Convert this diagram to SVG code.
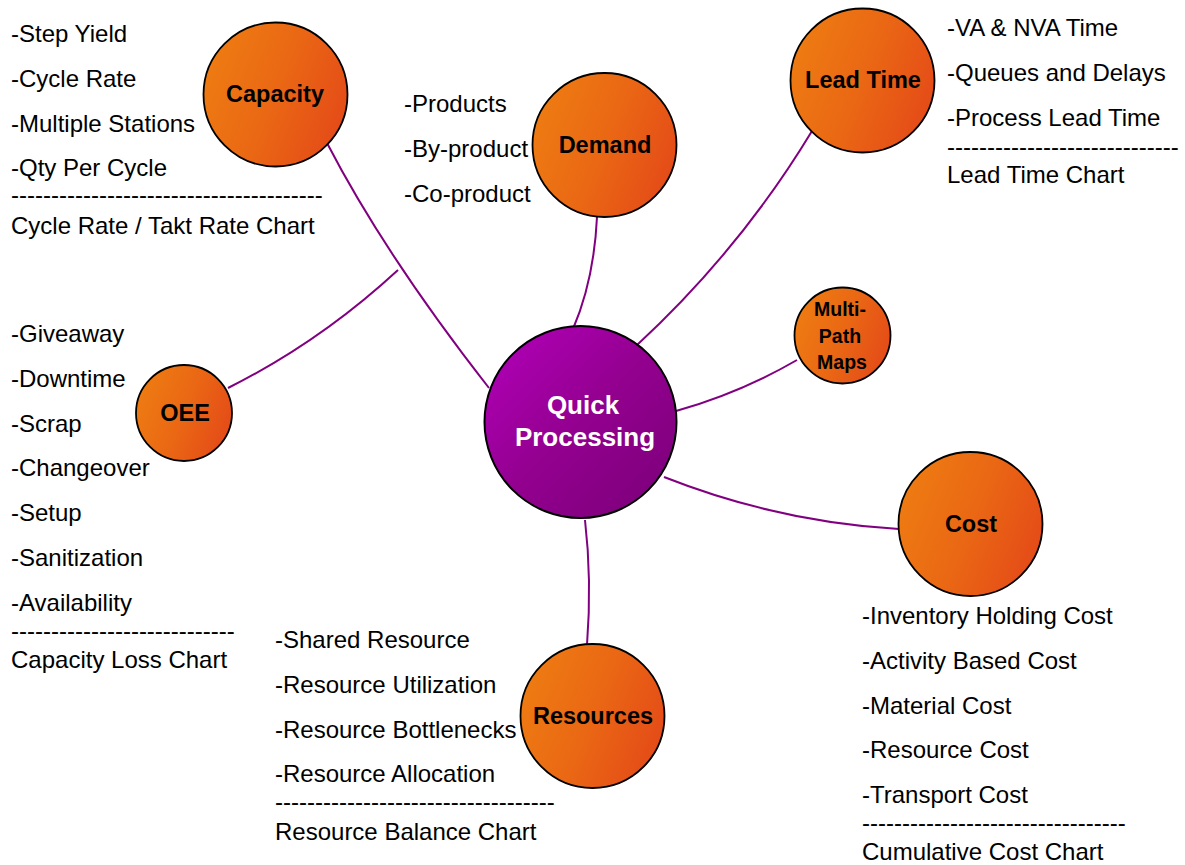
<svg xmlns="http://www.w3.org/2000/svg" width="1185" height="865" viewBox="0 0 1185 865">
<defs>
<linearGradient id="og" x1="0" y1="0.3" x2="1" y2="0.7">
<stop offset="0" stop-color="#EE7C12"/>
<stop offset="0.5" stop-color="#EA6714"/>
<stop offset="1" stop-color="#E44A18"/>
</linearGradient>
<linearGradient id="pg" x1="0" y1="0" x2="1" y2="1">
<stop offset="0" stop-color="#B400BC"/>
<stop offset="0.5" stop-color="#93008F"/>
<stop offset="1" stop-color="#7A0078"/>
</linearGradient>
<style>
.n{fill:url(#og);stroke:#000;stroke-width:1.8}
.c{fill:url(#pg);stroke:#000;stroke-width:2}
.nl{font-family:"Liberation Sans",Arial,sans-serif;font-weight:bold;font-size:23.5px;fill:#000;text-anchor:middle}
.ml{font-size:19.5px}
.cl{font-family:"Liberation Sans",Arial,sans-serif;font-weight:bold;font-size:26px;fill:#fff;text-anchor:middle}
.t{font-family:"Liberation Sans",Arial,sans-serif;font-size:24px;fill:#000}
.e{fill:none;stroke:#800080;stroke-width:2}
</style>
</defs>
<rect width="1185" height="865" fill="#fff"/>
<g id="connectors">
<path class="e" d="M327,143 Q385,255 489,388"/>
<path class="e" d="M228,388 Q320,342 398,270"/>
<path class="e" d="M597,217 Q594,280 573,329"/>
<path class="e" d="M812,131 Q740,250 636,346"/>
<path class="e" d="M797,360 Q740,393 676,411"/>
<path class="e" d="M899,529 Q778,522 664,477"/>
<path class="e" d="M585,520 Q592,580 587,645"/>
</g>
<g id="center">
<circle class="c" cx="580.5" cy="422" r="96"/>
<text class="cl" x="583" y="414">Quick</text>
<text class="cl" x="585" y="446">Processing</text>
</g>
<g id="capacity">
<circle class="n" cx="275.5" cy="94.5" r="72"/>
<text class="nl" x="275" y="102">Capacity</text>
<text class="t" x="11" y="42">-Step Yield</text>
<text class="t" x="11" y="87">-Cycle Rate</text>
<text class="t" x="11" y="132">-Multiple Stations</text>
<text class="t" x="11" y="176">-Qty Per Cycle</text>
<text class="t" x="11" y="203">---------------------------------------</text>
<text class="t" x="11" y="234">Cycle Rate / Takt Rate Chart</text>
</g>
<g id="demand">
<circle class="n" cx="604.5" cy="145" r="72"/>
<text class="nl" x="605" y="153">Demand</text>
<text class="t" x="404" y="112">-Products</text>
<text class="t" x="404" y="157">-By-product</text>
<text class="t" x="404" y="202">-Co-product</text>
</g>
<g id="leadtime">
<circle class="n" cx="862.5" cy="80.5" r="72"/>
<text class="nl" x="863" y="88">Lead Time</text>
<text class="t" x="947" y="36">-VA &amp; NVA Time</text>
<text class="t" x="947" y="81">-Queues and Delays</text>
<text class="t" x="947" y="126">-Process Lead Time</text>
<text class="t" x="947" y="155">-----------------------------</text>
<text class="t" x="947" y="183">Lead Time Chart</text>
</g>
<g id="multipath">
<circle class="n" cx="842.5" cy="335.5" r="48"/>
<text class="nl ml" x="840" y="316">Multi-</text>
<text class="nl ml" x="840" y="343">Path</text>
<text class="nl ml" x="842" y="369">Maps</text>
</g>
<g id="oee">
<circle class="n" cx="184" cy="413" r="48"/>
<text class="nl" x="185" y="421">OEE</text>
<text class="t" x="11" y="342">-Giveaway</text>
<text class="t" x="11" y="387">-Downtime</text>
<text class="t" x="11" y="432">-Scrap</text>
<text class="t" x="11" y="476">-Changeover</text>
<text class="t" x="11" y="521">-Setup</text>
<text class="t" x="11" y="566">-Sanitization</text>
<text class="t" x="11" y="611">-Availability</text>
<text class="t" x="11" y="639">----------------------------</text>
<text class="t" x="11" y="668">Capacity Loss Chart</text>
</g>
<g id="cost">
<circle class="n" cx="970.5" cy="524" r="72"/>
<text class="nl" x="971" y="532">Cost</text>
<text class="t" x="862" y="624">-Inventory Holding Cost</text>
<text class="t" x="862" y="669">-Activity Based Cost</text>
<text class="t" x="862" y="714">-Material Cost</text>
<text class="t" x="862" y="758">-Resource Cost</text>
<text class="t" x="862" y="803">-Transport Cost</text>
<text class="t" x="862" y="831">---------------------------------</text>
<text class="t" x="862" y="860">Cumulative Cost Chart</text>
</g>
<g id="resources">
<circle class="n" cx="592.5" cy="716" r="72"/>
<text class="nl" x="593" y="724">Resources</text>
<text class="t" x="275" y="648">-Shared Resource</text>
<text class="t" x="275" y="693">-Resource Utilization</text>
<text class="t" x="275" y="738">-Resource Bottlenecks</text>
<text class="t" x="275" y="782">-Resource Allocation</text>
<text class="t" x="275" y="810">-----------------------------------</text>
<text class="t" x="275" y="840">Resource Balance Chart</text>
</g>
</svg>
